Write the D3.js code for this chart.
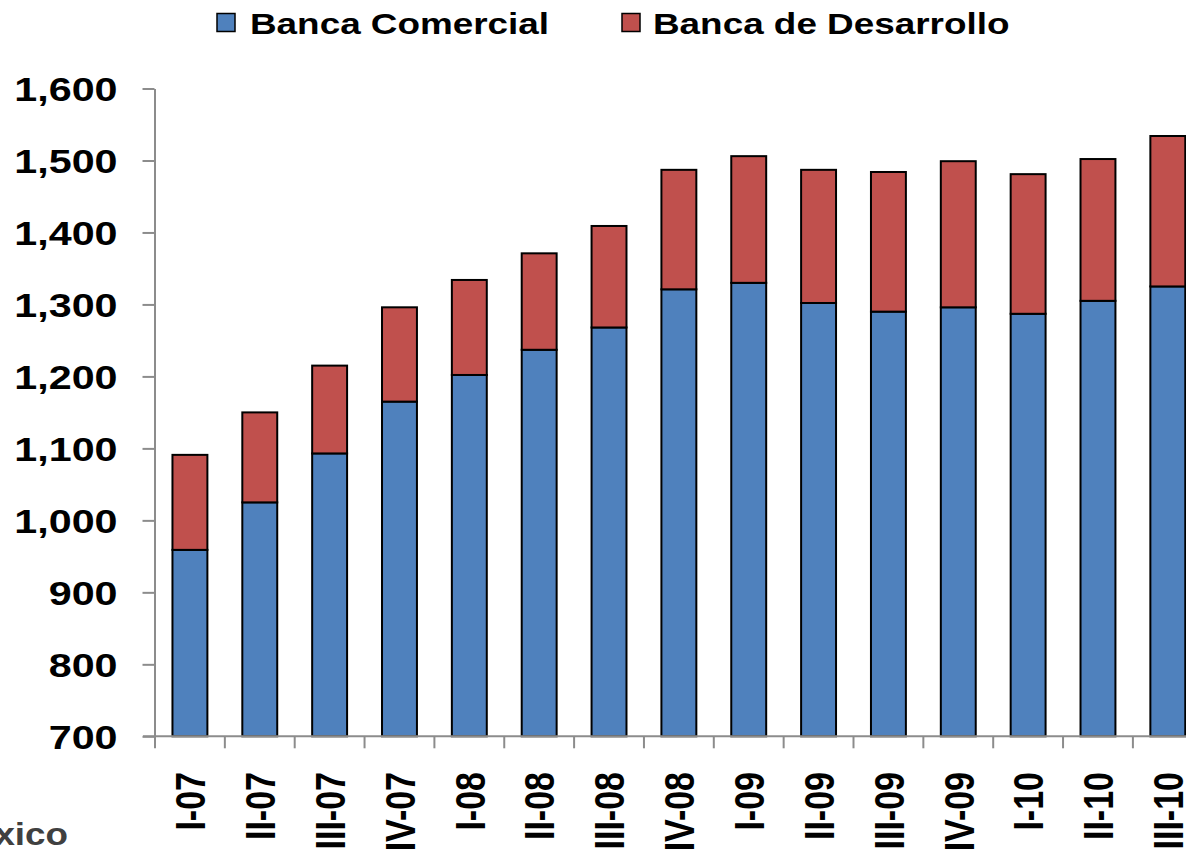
<!DOCTYPE html>
<html>
<head>
<meta charset="utf-8">
<script src="https://cdn.jsdelivr.net/npm/d3@7"></script>
<style>
  html, body { margin: 0; padding: 0; background: #fff; overflow: hidden; }
  svg { display: block; }
  text { font-family: "Liberation Sans", Arial, sans-serif; font-weight: bold; }
</style>
</head>
<body>
<svg id="chart" width="1186" height="851"></svg>
<script>
// ---- data ----
const categories = ["I-07","II-07","III-07","IV-07","I-08","II-08","III-08","IV-08","I-09","II-09","III-09","IV-09","I-10","II-10","III-10"];
const bancaComercial = [959,1025,1093,1165,1202,1237,1268,1321,1330,1302,1290,1296,1287,1305,1325];
const bancaDesarrollo = [132,125,122,131,132,134,141,166,176,185,194,203,194,197,209];
const seriesNames = ["Banca Comercial","Banca de Desarrollo"];
const yTicks = [700,800,900,1000,1100,1200,1300,1400,1500,1600];
const sourceText = "Fuente: Banco de México";

const colors = {"Banca Comercial": "#4F81BD", "Banca de Desarrollo": "#C0504D"};
const stretch = 1.25;

const rows = categories.map((c, i) => ({cat: c, "Banca Comercial": bancaComercial[i], "Banca de Desarrollo": bancaDesarrollo[i]}));

const svg = d3.select("#chart");

const x = d3.scaleBand().domain(categories).range([155, 155 + 15 * 69.85]).paddingInner(0.5).paddingOuter(0.25);
const y = d3.scaleLinear().domain([700, 1600]).range([736.3, 88.5]);

const stacked = d3.stack().keys(seriesNames)(rows);
const yMin = y.domain()[0];

// bars
const g = svg.append("g").attr("class", "bars");
stacked.forEach(layer => {
  g.append("g")
    .selectAll("rect")
    .data(layer)
    .join("rect")
    .attr("x", d => x(d.data.cat))
    .attr("width", x.bandwidth())
    .attr("y", d => y(d[1]))
    .attr("height", d => y(Math.max(d[0], yMin)) - y(d[1]))
    .attr("fill", colors[layer.key])
    .attr("stroke", "#000")
    .attr("stroke-width", 2);
});

// y axis
const axisColor = "#8c8c8c";
const yAxis = svg.append("g")
  .attr("transform", "translate(154.5,0)")
  .call(d3.axisLeft(y).tickValues(yTicks).tickSize(12).tickSizeOuter(0).tickFormat(d3.format(",")));
yAxis.select(".domain").attr("stroke", axisColor).attr("stroke-width", 2);
yAxis.selectAll(".tick line").attr("stroke", axisColor).attr("stroke-width", 2);
yAxis.selectAll(".tick text")
  .attr("x", -37 / stretch)
  .attr("dy", "0.36em")
  .attr("transform", `scale(${stretch},1)`)
  .attr("font-size", 33)
  .attr("fill", "#000")
  .attr("font-family", "Liberation Sans, Arial, sans-serif")
  .attr("font-weight", "bold");

// x axis
const x0 = y(yMin);
const xa = svg.append("g");
xa.append("line")
  .attr("x1", x.range()[0] - 12).attr("x2", x.range()[1])
  .attr("y1", x0).attr("y2", x0)
  .attr("stroke", axisColor).attr("stroke-width", 2);
const off = (x.step() - x.bandwidth()) / 2;
const boundaries = categories.map(c => x(c) - off).concat([x(categories[categories.length - 1]) + x.bandwidth() + off]);
xa.selectAll("line.tick")
  .data(boundaries)
  .join("line")
  .attr("class", "tick")
  .attr("x1", d => d).attr("x2", d => d)
  .attr("y1", x0).attr("y2", x0 + 12)
  .attr("stroke", axisColor).attr("stroke-width", 2);
xa.selectAll("text")
  .data(categories)
  .join("text")
  .attr("transform", d => `translate(${x(d) + x.bandwidth() / 2},772) scale(${stretch},1) rotate(-90)`)
  .attr("text-anchor", "end")
  .attr("dy", "0.36em")
  .attr("font-size", 34)
  .attr("fill", "#000")
  .text(d => d);

// legend
const legendPos = [{box: 217, text: 250}, {box: 622, text: 653}];
seriesNames.forEach((name, i) => {
  svg.append("rect")
    .attr("x", legendPos[i].box).attr("y", 13.5)
    .attr("width", 18).attr("height", 18)
    .attr("fill", colors[name]).attr("stroke", "#000").attr("stroke-width", 1.5);
  svg.append("text")
    .attr("transform", `translate(${legendPos[i].text},33.5) scale(${stretch},1)`)
    .attr("font-size", 29.5)
    .attr("fill", "#000")
    .text(name);
});

// source
svg.append("text")
  .attr("transform", `translate(68,845) scale(1.15,1)`)
  .attr("text-anchor", "end")
  .attr("font-size", 32)
  .attr("fill", "#404040")
  .text(sourceText);
</script>
</body>
</html>
